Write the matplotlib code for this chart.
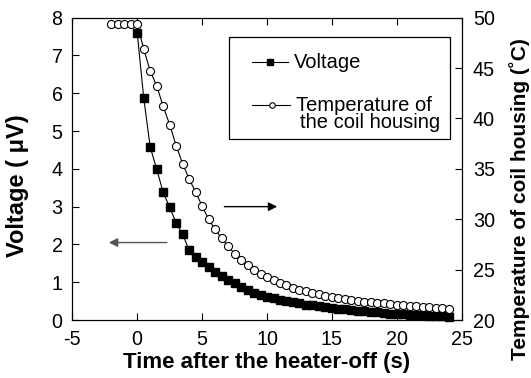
import numpy as np
import matplotlib
matplotlib.use('Agg')
import matplotlib.pyplot as plt
from matplotlib.lines import Line2D
from matplotlib.patches import Rectangle

plt.rcParams['font.family'] = ['Liberation Sans', 'DejaVu Sans']
plt.rcParams['axes.unicode_minus'] = False

# data (0.5 s sampling)
t_volt = np.arange(0, 24.01, 0.5)
voltage = [7.60, 5.88, 4.58, 3.99, 3.38, 2.98, 2.57, 2.27, 1.85, 1.67,
           1.54, 1.39, 1.27, 1.16, 1.06, 0.97, 0.88, 0.80, 0.72, 0.66,
           0.61, 0.57, 0.54, 0.51, 0.47, 0.44, 0.41, 0.39, 0.36, 0.34,
           0.32, 0.30, 0.28, 0.26, 0.24, 0.23, 0.21, 0.20, 0.18, 0.17,
           0.16, 0.15, 0.14, 0.13, 0.12, 0.11, 0.10, 0.095, 0.09]

t_temp = np.arange(-2, 24.01, 0.5)
temperature = [49.35, 49.35, 49.35, 49.35, 49.35,
               46.9, 44.7, 43.25, 41.2, 39.4, 37.3, 35.5, 34.0, 32.7, 31.3,
               30.0, 29.0, 28.1, 27.3, 26.6, 26.0, 25.5, 25.0, 24.6, 24.3,
               24.0, 23.7, 23.45, 23.2, 23.0, 22.85, 22.7, 22.55, 22.4, 22.3,
               22.2, 22.1, 22.0, 21.9, 21.8, 21.75, 21.7, 21.65, 21.55, 21.5,
               21.45, 21.4, 21.35, 21.3, 21.25, 21.2, 21.15, 21.1]

fig = plt.figure(figsize=(5.31, 3.78), dpi=100)
ax = fig.add_axes([0.1362, 0.1534, 0.7333, 0.7998])
ax2 = ax.twinx()

ax.plot(t_volt, voltage, '-', color='k', lw=0.8, marker='s', ms=5.2,
        mfc='k', mec='k', clip_on=False, zorder=3)
ax2.plot(t_temp, temperature, '-', color='k', lw=0.8, marker='o', ms=5.8,
         mfc='white', mec='k', mew=0.8, clip_on=False, zorder=3)

ax.set_xlim(-5, 25)
ax.set_ylim(0, 8)
ax2.set_ylim(20, 50)
ax.set_xticks(np.arange(-5, 26, 5))
ax.set_yticks(np.arange(0, 9, 1))
ax2.set_yticks(np.arange(20, 51, 5))

ax.tick_params(axis='x', direction='in', top=True, length=5, width=0.8,
               labelsize=14.2, pad=7)
ax.tick_params(axis='y', direction='in', right=False, length=5, width=0.8,
               labelsize=14.2, pad=7)
ax2.tick_params(axis='y', direction='in', length=5, width=0.8,
                labelsize=14.2, pad=8)
for a in (ax, ax2):
    for s in a.spines.values():
        s.set_linewidth(0.8)

ax.set_xlabel('Time after the heater-off (s)', fontsize=16, fontweight='bold',
              labelpad=2)
ax.set_ylabel('Voltage ( \u03bcV)', fontsize=17, fontweight='bold')
ax.yaxis.set_label_coords(-0.11, 0.445)
ax2.set_ylabel('Temperature of coil housing (\u02daC)', fontsize=15,
               fontweight='bold', rotation=90)
ax2.yaxis.set_label_coords(1.122, 0.40)

# arrows telling which axis each curve belongs to
ax.annotate('', xy=(11.0, 3.0), xytext=(6.5, 3.0),
            arrowprops=dict(arrowstyle='-|>', color='k', lw=1,
                            mutation_scale=13))
ax.annotate('', xy=(-2.4, 2.05), xytext=(2.5, 2.05),
            arrowprops=dict(arrowstyle='-|>', color='#555555', lw=1,
                            mutation_scale=13))

# legend box drawn by hand
ax.add_patch(Rectangle((0.402, 0.598), 0.568, 0.337, transform=ax.transAxes,
                       fill=True, fc='white', ec='k', lw=0.9, zorder=5))
ax.add_line(Line2D([0.4607, 0.555], [0.852, 0.852], transform=ax.transAxes,
                   color='k', lw=0.8, zorder=6))
ax.add_line(Line2D([0.508], [0.852], transform=ax.transAxes, marker='s',
                   ms=4, color='k', zorder=7))
ax.add_line(Line2D([0.4607, 0.559], [0.711, 0.711], transform=ax.transAxes,
                   color='k', lw=0.8, zorder=6))
ax.add_line(Line2D([0.512], [0.711], transform=ax.transAxes, marker='o',
                   ms=4, mfc='white', mec='k', mew=0.8, zorder=7))
ax.text(0.569, 0.852, 'Voltage', transform=ax.transAxes, fontsize=14.5,
        va='center', ha='left', zorder=7)
ax.text(0.574, 0.711, 'Temperature of', transform=ax.transAxes,
        fontsize=14.5, va='center', ha='left', zorder=7)
ax.text(0.584, 0.652, 'the coil housing', transform=ax.transAxes,
        fontsize=14.5, va='center', ha='left', zorder=7)

fig.savefig('out.png', dpi=100)
